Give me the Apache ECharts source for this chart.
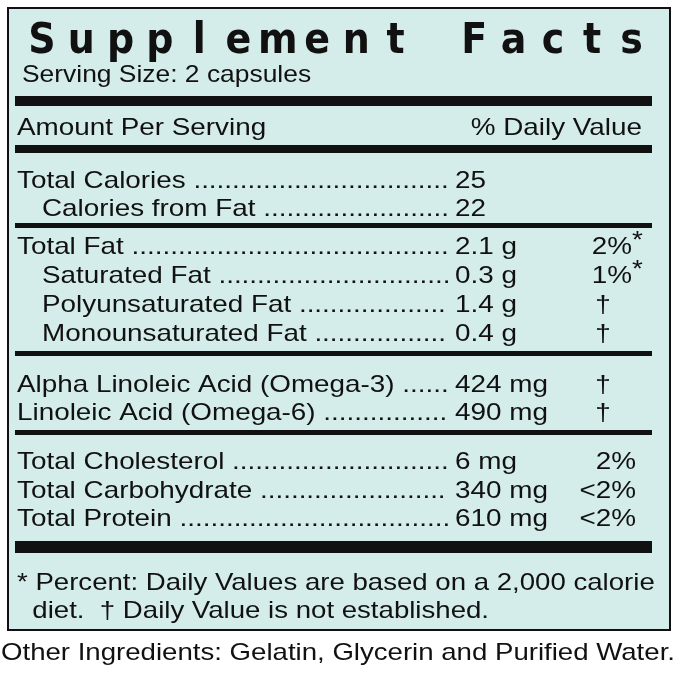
<!DOCTYPE html>
<html><head><meta charset="utf-8">
<script src="https://cdn.jsdelivr.net/npm/echarts@6/dist/echarts.min.js"></script>
<style>html,body{margin:0;padding:0;background:#fff}#c{width:674px;height:673px}</style>
</head><body><div id="c"></div>
<script>
var title = 'Supplement Facts';
var serving = 'Serving Size: 2 capsules';
var labels = ['Total Calories', 'Calories from Fat', 'Total Fat', 'Saturated Fat', 'Polyunsaturated Fat', 'Monounsaturated Fat',
  'Alpha Linoleic Acid (Omega-3)', 'Linoleic Acid (Omega-6)', 'Total Cholesterol', 'Total Carbohydrate', 'Total Protein'];
var indents = [0, 1, 0, 1, 1, 1, 0, 0, 0, 0, 0];
var amounts = ['25', '22', '2.1 g', '0.3 g', '1.4 g', '0.4 g', '424 mg', '490 mg', '6 mg', '340 mg', '610 mg'];
var dailyValues = ['', '', '2%*', '1%*', '†', '†', '†', '†', '2%', '<2%', '<2%'];
var footnotes = ['* Percent: Daily Values are based on a 2,000 calorie', '  diet.  † Daily Value is not established.'];
var ingredients = 'Other Ingredients: Gelatin, Glycerin and Purified Water.';

var myChart = echarts.init(document.getElementById('c'));
var FONT = '24px "Liberation Sans", Arial, sans-serif';
var SX = 1.16; // reference type is wider than Liberation Sans
var ctx = document.createElement('canvas').getContext('2d');
ctx.font = FONT;

var rowY = [181, 209, 247, 276, 305, 334, 385, 413, 462, 491, 519];
var els = [];

function txt(x, y, s, align, sx) {
  els.push({ type: 'text', x: x, y: y, scaleX: sx || SX,
    style: { text: s, font: FONT, fill: '#111', align: align || 'left', verticalAlign: 'middle' } });
}

// box
els.push({ type: 'rect', shape: { x: 8, y: 8, width: 662, height: 622 },
  style: { fill: '#d4ecea', stroke: '#111', lineWidth: 2 } });

// title letters spread out
for (var i = 0; i < title.length; i++) {
  if (title[i] === ' ') continue;
  els.push({ type: 'text', x: 42 + i * 39.3, y: 42, scaleY: 1.1,
    style: { text: title[i], font: '900 38px "DejaVu Sans", sans-serif', fill: '#111', align: 'center', verticalAlign: 'middle' } });
}
txt(22, 75, serving, 'left', 1.1);

// rules
[[96, 10], [145, 8], [223, 5], [351, 5], [430, 5], [541, 12]].forEach(function (r) {
  els.push({ type: 'rect', shape: { x: 15, y: r[0], width: 637, height: r[1] }, style: { fill: '#111' } });
});

txt(17, 128, 'Amount Per Serving');
txt(642, 128, '% Daily Value', 'right');

labels.forEach(function (lab, k) {
  var x0 = indents[k] ? 42 : 17;
  var s = lab + ' ';
  var dotW = ctx.measureText('.').width * SX;
  var w = ctx.measureText(s).width * SX;
  var n = Math.max(0, Math.floor((453 - x0 - w) / dotW));
  s += new Array(n + 1).join('.');
  txt(x0, rowY[k], s);
  txt(455, rowY[k], amounts[k]);
  var dv = dailyValues[k];
  if (dv === '†') {
    txt(603, rowY[k], dv, 'center');
  } else if (dv) {
    var ast = dv.indexOf('*') >= 0;
    txt(ast ? 632 : 636, rowY[k], dv.replace('*', ''), 'right');
    if (ast) txt(632, rowY[k] - 6, '*');
  }
});

footnotes.forEach(function (f, k) { txt(17, 583 + k * 28, f, 'left', 1.15); });
txt(1, 653, ingredients, 'left', 1.15);

myChart.setOption({ animation: false, graphic: { elements: els } });
</script></body></html>
